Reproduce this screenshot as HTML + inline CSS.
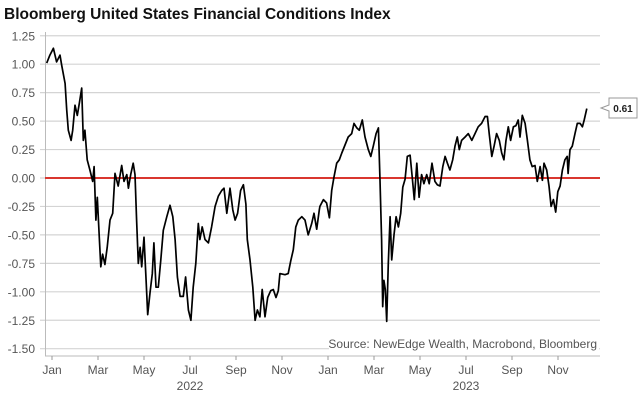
<!DOCTYPE html>
<html><head><meta charset="utf-8"><style>
body{margin:0;background:#fff;}
svg{display:block;font-family:"Liberation Sans",sans-serif;}
</style></head><body>
<svg id="chart" width="640" height="400" viewBox="0 0 640 400">
<text x="4" y="19" font-size="15.5" font-weight="bold" fill="#111">Bloomberg United States Financial Conditions Index</text>
<g id="grid"></g><g id="yticks"></g><g id="xticks"></g>
<line x1="45" y1="178" x2="600" y2="178" stroke="#d9362f" stroke-width="2"/>
<path id="series" fill="none" stroke="#000" stroke-width="1.7" stroke-linejoin="round"/>
<rect x="329" y="335" width="270" height="16" fill="#fff"/>
<text x="597" y="348" font-size="12" fill="#555" text-anchor="end">Source: NewEdge Wealth, Macrobond, Bloomberg</text>
<g>
<path d="M609,98 H637 V118 H609 V111 L601,108 L609,105 Z" fill="#fff" stroke="#999" stroke-width="1"/>
<text id="lastval" x="623" y="112" font-size="10" font-weight="bold" fill="#222" text-anchor="middle">0.61</text>
</g>
</svg>
<script>
const yTicks=[1.25,1.00,0.75,0.50,0.25,0.00,-0.25,-0.50,-0.75,-1.00,-1.25,-1.50];
const xTickMonths=[0,2,4,6,8,10,12,14,16,18,20,22];
const xTickLabels=["Jan","Mar","May","Jul","Sep","Nov","Jan","Mar","May","Jul","Sep","Nov"];
const yearLabels=["2022","2023"];
const yearMonths=[6,18];
const months=[-0.23,-0.09,0.06,0.20,0.35,0.42,0.57,0.64,0.71,0.83,0.90,1.00,1.10,1.19,1.29,1.36,1.43,1.53,1.65,1.77,1.83,1.91,1.97,2.06,2.12,2.20,2.30,2.40,2.52,2.64,2.74,2.88,3.03,3.13,3.25,3.32,3.42,3.53,3.61,3.68,3.75,3.83,3.90,4.00,4.09,4.16,4.26,4.36,4.43,4.52,4.62,4.73,4.84,4.99,5.13,5.25,5.35,5.45,5.57,5.71,5.81,5.93,6.04,6.14,6.25,6.36,6.43,6.53,6.65,6.80,6.94,7.09,7.23,7.38,7.48,7.60,7.74,7.86,7.96,8.07,8.20,8.32,8.43,8.49,8.61,8.73,8.83,8.93,9.04,9.14,9.26,9.38,9.51,9.62,9.74,9.84,9.91,10.13,10.27,10.38,10.49,10.60,10.71,10.86,11.00,11.14,11.29,11.39,11.51,11.62,11.65,11.80,11.94,12.06,12.16,12.26,12.38,12.49,12.60,12.74,12.88,13.03,13.13,13.25,13.36,13.49,13.61,13.75,13.86,13.97,14.09,14.19,14.26,14.33,14.38,14.43,14.49,14.55,14.62,14.70,14.77,14.87,14.96,15.06,15.16,15.25,15.35,15.45,15.57,15.67,15.75,15.86,15.96,16.07,16.17,16.29,16.40,16.52,16.65,16.75,16.87,16.99,17.09,17.19,17.30,17.42,17.52,17.62,17.71,17.81,17.96,18.10,18.25,18.39,18.53,18.68,18.83,18.93,19.01,19.12,19.22,19.33,19.45,19.55,19.65,19.74,19.84,19.94,20.06,20.17,20.27,20.35,20.45,20.57,20.67,20.78,20.88,21.00,21.10,21.22,21.32,21.39,21.51,21.61,21.70,21.80,21.90,21.99,22.09,22.19,22.30,22.40,22.44,22.52,22.62,22.74,22.84,22.96,23.06,23.14,23.25];
const values=[1.01,1.08,1.14,1.02,1.08,0.99,0.83,0.60,0.42,0.33,0.42,0.64,0.55,0.66,0.79,0.33,0.42,0.16,0.07,-0.03,0.10,-0.37,-0.17,-0.54,-0.78,-0.67,-0.76,-0.61,-0.37,-0.31,0.04,-0.07,0.11,-0.03,0.03,-0.09,0.03,0.13,0.03,-0.37,-0.75,-0.61,-0.78,-0.52,-0.90,-1.20,-1.01,-0.84,-0.57,-0.96,-0.96,-0.72,-0.46,-0.34,-0.24,-0.34,-0.54,-0.87,-1.04,-1.04,-0.87,-1.16,-1.25,-0.96,-0.75,-0.40,-0.54,-0.43,-0.54,-0.57,-0.43,-0.25,-0.16,-0.11,-0.09,-0.31,-0.09,-0.28,-0.37,-0.31,-0.11,-0.06,-0.23,-0.54,-0.72,-0.96,-1.25,-1.16,-1.22,-0.98,-1.22,-1.05,-0.99,-0.98,-1.05,-0.99,-0.84,-0.85,-0.84,-0.73,-0.63,-0.43,-0.37,-0.34,-0.37,-0.50,-0.40,-0.31,-0.45,-0.28,-0.25,-0.19,-0.22,-0.35,-0.11,0.01,0.13,0.16,0.22,0.29,0.36,0.39,0.48,0.44,0.42,0.51,0.36,0.25,0.19,0.28,0.39,0.44,-0.02,-0.54,-1.13,-0.90,-0.98,-1.26,-0.75,-0.34,-0.72,-0.50,-0.34,-0.43,-0.31,-0.08,-0.01,0.19,0.20,-0.01,-0.19,0.13,-0.17,0.03,-0.05,0.03,-0.05,0.13,-0.03,-0.06,-0.07,0.10,0.19,0.13,0.07,0.16,0.28,0.36,0.25,0.33,0.36,0.39,0.33,0.39,0.45,0.48,0.54,0.54,0.39,0.19,0.28,0.39,0.33,0.22,0.16,0.33,0.45,0.33,0.45,0.46,0.51,0.36,0.55,0.48,0.33,0.16,0.10,0.11,-0.03,0.10,-0.02,0.13,0.07,-0.07,-0.25,-0.19,-0.30,-0.12,-0.07,0.07,0.16,0.19,0.04,0.25,0.28,0.39,0.48,0.48,0.45,0.51,0.61];
const NS="http://www.w3.org/2000/svg";
const xs=m=>52+m*23;
const ys=v=>178-v*113.8;
const grid=document.getElementById('grid'),yt=document.getElementById('yticks'),xt=document.getElementById('xticks');
yTicks.forEach(v=>{
  const l=document.createElementNS(NS,'line');
  l.setAttribute('x1',40);l.setAttribute('x2',600);l.setAttribute('y1',ys(v));l.setAttribute('y2',ys(v));
  l.setAttribute('stroke','#d4d4d4');l.setAttribute('stroke-width','1.2');
  
  
  grid.appendChild(l);
  const t=document.createElementNS(NS,'text');
  t.setAttribute('x',35);t.setAttribute('y',ys(v)+4.5);t.setAttribute('text-anchor','end');
  t.setAttribute('font-size','12');t.setAttribute('fill','#555');
  t.textContent=v.toFixed(2);
  
  
  yt.appendChild(t);
});
const ax=document.createElementNS(NS,'path');
ax.setAttribute('d','M45.5,32 V356 M45,356 H600');ax.setAttribute('stroke','#bbb');ax.setAttribute('fill','none');


grid.appendChild(ax);
xTickMonths.forEach((m,i)=>{
  const l=document.createElementNS(NS,'line');
  l.setAttribute('x1',xs(m));l.setAttribute('x2',xs(m));l.setAttribute('y1',356);l.setAttribute('y2',360);
  l.setAttribute('stroke','#999');
  
  
  xt.appendChild(l);
  const t=document.createElementNS(NS,'text');
  t.setAttribute('x',xs(m));t.setAttribute('y',374);t.setAttribute('text-anchor','middle');
  t.setAttribute('font-size','12');t.setAttribute('fill','#555');
  t.textContent=xTickLabels[i];
  
  
  xt.appendChild(t);
});
yearLabels.forEach((y,i)=>{
  const t=document.createElementNS(NS,'text');
  t.setAttribute('x',xs(yearMonths[i]));t.setAttribute('y',390);t.setAttribute('text-anchor','middle');
  t.setAttribute('font-size','12');t.setAttribute('fill','#555');
  t.textContent=y;
  
  
  xt.appendChild(t);
});
document.getElementById('series').setAttribute('d',months.map((m,i)=>(i?'L':'M')+xs(m).toFixed(1)+','+ys(values[i]).toFixed(1)).join(''));
const lastV=values[values.length-1];
document.getElementById('lastval').textContent=lastV.toFixed(2);
</script>
</body></html>
